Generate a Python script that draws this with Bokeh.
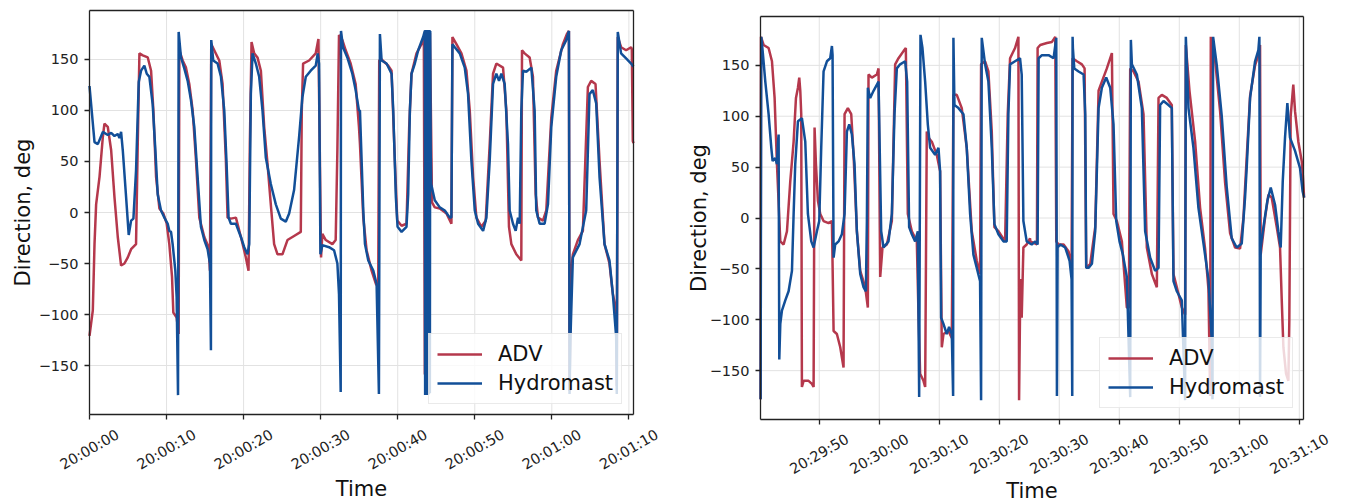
import math
import pandas as pd
from bokeh.plotting import figure
from bokeh.layouts import row
from bokeh.models import Range1d, FixedTicker, DatetimeTickFormatter, Legend, LegendItem, Label, LinearAxis
from bokeh.core.properties import value
from bokeh.embed import file_html
from bokeh.resources import INLINE

# ---------------- data: left panel (seconds after 20:00:00) ----------------
left_base = "2023-01-01 20:00:00"
left_adv_t = [0, 0.43, 0.65, 0.86, 1.30, 1.73, 1.94, 2.37, 2.81, 3.24, 3.67, 4.10, 4.53, 4.97, 5.40, 6.04,
              6.26, 6.48, 6.91, 7.56, 7.99, 8.29, 8.64, 9.07, 9.59, 10.02, 10.36, 10.71, 10.88, 11.31, 11.57,
              11.66, 12.09, 12.52, 12.95, 13.39, 13.82, 14.25, 14.90, 15.46, 15.63, 15.80, 16.19, 16.84, 17.27,
              17.70, 17.92, 18.35, 19.00, 19.65, 20.29, 20.64, 20.81, 21.03, 21.37, 21.80, 22.24, 22.67, 23.10,
              23.53, 23.96, 24.40, 25.04, 25.69, 26.55, 27.42, 27.55, 27.72, 28.50, 29.36, 29.71, 29.88, 30.05,
              30.22, 30.66, 31.52, 31.95, 32.17, 32.38, 32.82, 33.25, 33.89, 34.54, 34.97, 35.10, 35.53, 35.96,
              36.61, 37.17, 37.47, 37.60, 37.91, 38.77, 39.20, 39.63, 39.94, 40.50, 41.14, 41.49, 41.79, 42.44,
              43.09, 43.39, 43.52, 43.60, 43.70, 43.82, 43.94, 44.05, 44.18, 44.45, 44.81, 45.46, 46.33, 46.97,
              47.10, 47.62, 48.27, 48.92, 49.35, 49.78, 50.21, 50.86, 51.42, 51.94, 52.37, 52.80, 53.67, 54.10,
              54.44, 54.75, 55.39, 56.04, 56.13, 56.47, 57.12, 57.55, 57.90, 58.20, 58.85, 59.28, 59.93, 60.57,
              61.44, 61.96, 62.22, 62.30, 62.47, 62.73, 63.38, 64.03, 64.68, 65.11, 65.67, 66.19, 66.84, 67.48,
              67.92, 68.35, 68.43, 68.56, 68.99, 69.64, 70.29, 70.38, 70.51, 70.60]
left_adv_v = [-121, -96, -31, 8, 35, 74, 87, 84, 61, 15, -24, -52, -50, -44, -36, -31,
              67, 156, 154, 152, 139, 100, 35, 4, -1, -11, -31, -63, -98, -103, -119,
              159, 149, 142, 126, 100, 51, -5, -24, -34, -57, 165, 159, 149, 126,
              51, -5, -6, -5, -24, -44, -57, 67, 167, 156, 152, 139, 84, 48,
              8, -31, -41, -41, -27, -23, -19, 100, 146, 149, 156, 170, 64, -44,
              -21, -27, -31, -27, 61, 174, 169, 159, 146, 126, 84, 67, -5, -37,
              -57, -70, -73, 149, 150, 144, 139, 51, -8, -13, -11, 84, 136, 156,
              165, 172, -158, -160, 178, -155, 178, -150, 176, 10, 5, 4, -1, -11,
              172, 165, 156, 139, 100, 35, -5, -14, -8, 67, 136, 146, 142, 100,
              -14, -31, -41, -47, 159, 156, 152, 133, 18, -5, -8, 2, 93, 139,
              165, 175, 178, -175, -60, -41, -27, -18, 123, 129, 126, 51, -31, -50,
              -80, -96, -170, 172, 162, 159, 162, 160, 70, 68]

left_hm_t = [0, 0.65, 1.08, 1.73, 2.37, 2.81, 3.24, 3.67, 3.89, 4.10, 4.32, 4.75, 5.09, 5.40, 5.70, 6.04,
             6.39, 6.69, 7.12, 7.43, 7.77, 8.20, 8.55, 8.85, 9.28, 9.72, 10.15, 10.36, 10.58, 10.79, 11.14,
             11.31, 11.49, 11.57, 11.87, 12.31, 12.74, 13.17, 13.60, 14.03, 14.46, 14.90, 15.33, 15.63, 15.76,
             15.80, 16.06, 16.62, 17.06, 17.49, 17.79, 18.05, 18.35, 19.00, 19.65, 20.08, 20.51, 20.73, 20.94,
             21.16, 21.59, 22.02, 22.45, 22.88, 23.53, 24.18, 24.83, 25.47, 25.91, 26.55, 27.20, 27.63, 28.07,
             28.71, 29.36, 29.62, 29.79, 29.97, 30.22, 31.09, 31.74, 32.17, 32.38, 32.60, 32.64, 32.90, 33.46,
             34.11, 34.54, 34.97, 35.10, 35.53, 35.75, 36.18, 36.83, 37.26, 37.56, 37.69, 37.91, 38.55, 39.20,
             39.42, 39.76, 39.98, 40.50, 41.14, 41.36, 41.58, 41.79, 42.22, 42.66, 43.30, 43.52, 43.56, 43.60,
             43.64, 43.68, 43.74, 43.80, 43.85, 43.90, 43.95, 44.00, 44.06, 44.12, 44.17, 44.22, 44.28, 44.34,
             44.81, 45.46, 46.11, 46.76, 46.97, 47.10, 47.41, 48.05, 48.70, 49.13, 49.56, 50.00, 50.43, 51.08,
             51.51, 51.94, 52.37, 52.80, 53.15, 53.45, 53.88, 54.31, 54.53, 54.96, 55.31, 55.61, 55.83, 56.04,
             56.26, 56.69, 57.34, 57.77, 57.98, 58.42, 59.06, 59.50, 59.93, 60.57, 61.22, 61.87, 62.22, 62.30,
             62.43, 62.73, 63.60, 64.46, 64.89, 65.32, 65.76, 66.19, 66.84, 67.48, 67.92, 68.35, 68.43, 68.56,
             68.99, 69.64, 70.29, 70.60]
left_hm_v = [124, 69, 67, 79, 76, 78, 75, 77, 73, 79, 61, 15, -22, -8, -6, 41,
             128, 139, 144, 136, 133, 106, 61, 18, 2, -5, -11, -18, -19, -31, -57,
             -83, -179, 177, 152, 141, 129, 110, 84, 35, -14, -27, -36, -50, -135,
             169, 149, 146, 133, 100, 48, -5, -11, -11, -24, -34, -41, -31, 116,
             156, 146, 133, 100, 54, 28, 8, -6, -9, -1, 22, 74, 113, 133,
             139, 144, 156, 146, -41, -32, -34, -37, -50, -80, -176, 178, 162, 152,
             136, 120, 100, 100, 2, -31, -47, -57, -70, -178, 175, 149, 146, 136,
             100, 15, -14, -19, -14, 18, 100, 136, 146, 159, 172, 178, -179, 179,
             -178, 178, -179, 179, -178, 179, -179, 178, -178, 179, -177, 178, 60, 28,
             12, 5, 2, -5, -5, 165, 162, 156, 142, 116, 51, 2, -11, -18,
             -5, 51, 126, 136, 129, 136, 126, 67, 2, -11, -18, -5, -11, 100,
             139, 138, 142, 100, 2, -11, -11, 8, 84, 133, 159, 169, 178, -178,
             -120, -44, -31, 2, 116, 120, 107, 35, -31, -47, -80, -122, -178, 177,
             156, 151, 146, 143]

# ---------------- data: right panel (seconds after 20:29:40) ----------------
right_base = "2023-01-01 20:29:40"
right_adv_t = [0.23, 0.29, 0.73, 1.56, 2.12, 2.56, 2.95, 3.51, 4.06, 4.62, 5.17, 5.73, 6.12, 6.45, 6.67, 6.84,
               7.00, 7.11, 7.39, 8.22, 8.78, 9.06, 9.22, 9.45, 9.78, 10.17, 10.72, 11.55, 12.11, 12.39, 12.94,
               13.50, 14.05, 14.22, 14.77, 15.33, 15.72, 16.27, 16.83, 17.66, 18.10, 18.21, 18.77, 19.60, 19.88,
               20.16, 20.54, 21.27, 22.10, 22.65, 23.21, 24.04, 24.43, 24.76, 25.43, 26.26, 26.54, 26.81, 27.37,
               27.65, 27.92, 28.20, 28.76, 29.59, 30.14, 30.42, 30.70, 31.53, 32.09, 32.36, 32.92, 33.75, 34.58,
               35.42, 36.25, 36.80, 36.97, 37.64, 38.19, 38.75, 39.19, 39.86, 40.97, 41.41, 41.80, 42.63, 43.19,
               43.30, 43.52, 43.74, 44.02, 44.57, 45.13, 45.17, 46.28, 46.39, 46.83, 47.94, 48.78, 49.33, 49.50,
               49.89, 50.72, 51.55, 51.83, 52.05, 52.22, 52.94, 53.77, 54.22, 54.49, 55.16, 55.99, 56.55, 57.10,
               57.93, 58.77, 59.04, 59.60, 60.43, 61.26, 61.60, 61.82, 62.37, 63.21, 64.04, 64.59, 65.43, 66.26,
               66.54, 67.09, 67.92, 68.75, 69.03, 69.59, 70.42, 70.97, 71.09, 71.70, 72.64, 73.47, 74.30, 74.86,
               75.14, 75.25, 75.97, 76.80, 77.63, 78.47, 79.30, 80.13, 80.69, 81.24, 81.80, 82.63, 83.18, 83.46,
               83.57, 84.29, 84.85, 85.40, 86.24, 86.79, 87.07, 87.35, 87.79, 88.18, 88.34, 88.56, 89.00, 89.29,
               89.84, 90.40, 90.56, 90.80]
right_adv_v = [-178, 178, 170, 167, 154, 118, 53, -23, -26, -13, 36, 75, 118, 128, 138, 125,
               102, -166, -160, -160, -163, -166, 89, 53, 17, 4, -3, -5, -3, -111, -114,
               -127, -147, 102, 108, 102, 62, -13, -52, -68, -88, 141, 138, 141, 147,
               -58, -29, -26, -3, 151, 157, 164, 167, 4, -13, -23, -94, -153, -160,
               -166, 85, 79, 75, 62, 46, -127, -114, -111, -118, 121, 121, 108, 69,
               -13, -42, -55, 151, 154, 144, 85, -9, -13, -23, 102, 157, 167, 178,
               -179, -60, -98, -29, -26, -20, -23, -26, 167, 170, 172, 173, 178, -23,
               -26, -26, -33, -42, -45, 157, 154, 151, 147, -49, -45, -9, 125, 134,
               147, 162, 4, -3, -23, -88, -88, 147, 144, 134, 102, -29, -55, -68,
               118, 121, 118, 111, -55, -68, -88, -95, 170, 125, 75, 10, -30, -70,
               -175, 178, 155, 105, 35, -15, -29, -30, 0, 60, 120, 150, 160, 170,
               -36, 0, 23, 20, -9, -29, -80, -127, -153, -160, -100, 100, 131, 105,
               75, 56, 45, 20]

right_hm_t = [0.23, 0.34, 0.57, 1.01, 1.56, 2.01, 2.23, 2.67, 2.95, 3.12, 3.23, 3.34, 3.51, 3.78, 4.34, 4.89,
              5.45, 5.73, 6.00, 6.45, 7.11, 7.67, 8.11, 8.67, 9.06, 9.61, 10.00, 10.33, 10.72, 11.28, 11.83,
              12.11, 12.22, 12.39, 12.66, 13.22, 13.77, 14.22, 14.61, 15.00, 15.44, 15.88, 16.27, 16.83, 17.38,
              17.77, 17.94, 18.10, 18.49, 19.05, 19.88, 20.32, 20.71, 21.54, 22.10, 22.54, 22.93, 23.48, 24.32,
              24.65, 24.98, 25.43, 25.98, 26.43, 26.65, 26.87, 27.20, 27.65, 28.09, 28.48, 29.31, 29.87, 30.14,
              30.31, 30.70, 31.25, 31.64, 32.09, 32.31, 32.36, 32.53, 33.20, 34.03, 34.58, 35.14, 35.69, 36.25,
              36.80, 36.97, 37.08, 37.64, 38.19, 38.75, 39.19, 39.86, 40.69, 41.24, 41.52, 41.80, 42.63, 43.46,
              43.74, 44.02, 44.57, 45.41, 46.00, 46.39, 46.56, 47.11, 48.22, 49.05, 49.50, 49.61, 49.72, 50.16,
              50.99, 51.72, 52.05, 52.16, 52.22, 52.27, 52.50, 53.22, 54.05, 54.33, 54.49, 54.88, 55.44, 55.99,
              56.55, 57.10, 57.82, 58.49, 59.04, 59.49, 60.04, 60.60, 61.26, 61.82, 61.93, 62.10, 62.93, 63.76,
              64.31, 65.15, 65.98, 66.54, 66.81, 67.37, 68.20, 68.75, 69.03, 69.59, 70.42, 70.97, 71.09, 71.53,
              72.36, 73.19, 74.03, 74.86, 75.41, 75.53, 75.64, 76.25, 77.08, 77.91, 78.74, 79.58, 80.41, 80.96,
              81.24, 81.80, 82.63, 83.18, 83.35, 83.46, 83.57, 84.02, 84.68, 85.24, 85.96, 86.51, 86.90, 87.24,
              87.62, 88.01, 88.45, 89.29, 90.12, 90.56, 90.80]
right_hm_v = [-178, 178, 164, 134, 102, 69, 56, 59, 53, 75, 82, -139, -104, -91, -81, -72,
              -52, 4, 53, 95, 98, 75, 4, -23, -29, -13, -3, 69, 144, 154, 157,
              169, 160, -39, -26, -23, -16, 4, 85, 92, 82, 53, -13, -55, -68,
              -72, -3, 128, 118, 125, 134, -13, -29, -23, 4, 102, 147, 151, 154,
              134, -9, -16, -23, -13, -176, 180, 167, 134, 92, 69, 62, 69, 46,
              -98, -104, -114, -107, -114, -175, 177, 111, 108, 102, 69, 4, -36, -49,
              -62, -179, 177, 151, 134, 69, -6, -16, -23, -23, 102, 151, 154, 157,
              141, -3, -23, -26, -23, -26, 157, 160, 160, 157, 177, -175, -29, -26,
              -29, -42, -60, -175, 178, 167, 147, 144, 141, 102, -49, -49, -45, -13,
              108, 128, 138, 128, 92, -3, -23, -36, -58, -176, 175, 151, 141, 108,
              -13, -39, -52, -49, 111, 115, 111, 108, -62, -72, -81, -179, 178, 108,
              69, 10, -25, -60, -120, -178, 178, 150, 100, 30, -20, -29, -25, 20,
              50, 118, 154, 165, 178, -176, -29, -9, 17, 30, 13, -13, -29, 36,
              79, 113, 79, 66, 49, 26, 20]

y_ticks = [-150, -100, -50, 0, 50, 100, 150]
left_tick_labels = ["20:00:00", "20:00:10", "20:00:20", "20:00:30", "20:00:40", "20:00:50", "20:01:00", "20:01:10"]
right_tick_labels = ["20:29:50", "20:30:00", "20:30:10", "20:30:20", "20:30:30", "20:30:40", "20:30:50", "20:31:00", "20:31:10"]

RED = "#b5384c"
BLUE = "#124f98"
GRID = "#e2e2e2"
INK = "#222222"
FONT = "DejaVu Sans"
Y0, Y1 = -198, 198
H = 503
EPOCH = pd.Timestamp("1970-01-01")


def to_dt(base, secs):
    return pd.Timestamp(base) + pd.to_timedelta(secs, unit="s")


def ms(ts):
    return (pd.Timestamp(ts) - EPOCH).total_seconds() * 1000.0


def make_panel(base, adv_t, adv_v, hm_t, hm_v, tick_labels, x0, x1, W, bl, br, bt, fh,
               lab_drop, time_drop, ytitle_dx, legend_xy):
    date = pd.Timestamp(base).strftime("%Y-%m-%d ")
    spp = (x1 - x0) / (W - bl - br)          # seconds per pixel
    k = (Y1 - Y0) / fh                       # degrees per pixel
    bb = H - bt - fh
    # the frame fills the whole figure; the plot box sits inside it
    p = figure(width=W, height=H, x_axis_type="datetime",
               output_backend="svg", toolbar_location=None,
               min_border=0, min_border_left=0, min_border_right=0, min_border_top=0, min_border_bottom=0,
               x_range=Range1d(to_dt(base, x0 - bl * spp), to_dt(base, x1 + br * spp)),
               y_range=Range1d(Y0 - bb * k, Y1 + bt * k))
    p.grid.visible = False
    p.outline_line_color = None
    p.background_fill_color = "white"
    p.border_fill_color = "white"

    tick_times = [pd.Timestamp(date + lab) for lab in tick_labels]
    xt = [ms(t) for t in tick_times]
    xs, xe = to_dt(base, x0), to_dt(base, x1)

    # grid lines inside the plot box
    p.segment(x0=tick_times, y0=[Y0] * len(xt), x1=tick_times, y1=[Y1] * len(xt),
              line_color=GRID, line_width=1)
    p.segment(x0=[xs] * len(y_ticks), y0=y_ticks, x1=[xe] * len(y_ticks), y1=y_ticks,
              line_color=GRID, line_width=1)

    r1 = p.line(to_dt(base, adv_t), adv_v, line_color=RED, line_width=2.5)
    r2 = p.line(to_dt(base, hm_t), hm_v, line_color=BLUE, line_width=2.5)

    # bottom axis (ticks) pinned to the bottom of the plot box
    xa = p.xaxis[0]
    xa.fixed_location = Y0
    xa.bounds = (ms(xs) - 1, ms(xe))
    xa.ticker = FixedTicker(ticks=xt)
    fmt = "%H:%M:%S"
    xa.formatter = DatetimeTickFormatter(milliseconds=fmt, seconds=fmt, minsec=fmt,
                                         minutes=fmt, hourmin=fmt, hours=fmt)
    xa.major_label_overrides = {t: "" for t in xt}
    xa.major_label_text_font_size = "0px"
    # left axis pinned to the left of the plot box
    ya = p.yaxis[0]
    ya.fixed_location = ms(xs)
    ya.bounds = (Y0, Y1)
    ya.ticker = FixedTicker(ticks=y_ticks)
    ya.major_label_overrides = {v: (str(v) if v >= 0 else "\u2212" + str(-v)) for v in y_ticks}
    ya.major_label_text_font = FONT
    ya.major_label_text_font_size = "14.5px"
    ya.major_label_text_color = INK
    ya.major_label_standoff = 6
    for ax in (xa, ya):
        ax.axis_line_color = INK
        ax.axis_line_width = 1.3
        ax.major_tick_line_color = INK
        ax.major_tick_line_width = 1.3
        ax.major_tick_out = 5
        ax.major_tick_in = 0
        ax.minor_tick_line_color = None
    # top and right edges of the box
    top = LinearAxis(fixed_location=Y1, bounds=(ms(xs) - 1, ms(xe)), ticker=FixedTicker(ticks=[]),
                     axis_line_color=INK, axis_line_width=1.3, major_tick_line_color=None,
                     minor_tick_line_color=None, major_label_text_font_size="0px")
    p.add_layout(top, "above")
    rgt = LinearAxis(fixed_location=ms(xe), bounds=(Y0, Y1), ticker=FixedTicker(ticks=[]),
                     axis_line_color=INK, axis_line_width=1.3, major_tick_line_color=None,
                     minor_tick_line_color=None, major_label_text_font_size="0px")
    p.add_layout(rgt, "right")

    # rotated time tick labels, centred under their ticks
    p.text(x=tick_times, y=[Y0 - lab_drop * k] * len(xt), text=tick_labels,
           angle=math.pi / 6, text_align="center", text_baseline="middle",
           text_font=value(FONT), text_font_size=value("14.5px"), text_color=INK)
    # axis titles
    p.add_layout(Label(x=ms(to_dt(base, (x0 + x1) / 2)), y=Y0 - time_drop * k, text="Time",
                       text_align="center", text_baseline="middle",
                       text_font=FONT, text_font_size="21px", text_color="#111111"))
    p.add_layout(Label(x=ms(to_dt(base, x0 - ytitle_dx * spp)), y=0, text="Direction, deg",
                       angle=math.pi / 2, text_align="center", text_baseline="middle",
                       text_font=FONT, text_font_size="21px", text_color="#111111"))

    legend = Legend(items=[LegendItem(label="ADV", renderers=[r1]),
                           LegendItem(label="Hydromast", renderers=[r2])],
                    location=legend_xy)
    legend.label_text_font = FONT
    legend.label_text_font_size = "21px"
    legend.label_text_color = "#111111"
    legend.glyph_width = 45
    legend.glyph_height = 22
    legend.label_standoff = 16
    legend.padding = 8
    legend.spacing = 5
    legend.margin = 0
    legend.border_line_color = "#d6d6d6"
    legend.border_line_width = 1
    legend.background_fill_alpha = 0.8
    p.add_layout(legend)
    return p


p1 = make_panel(left_base, left_adv_t, left_adv_v, left_hm_t, left_hm_v, left_tick_labels,
                0.0, 70.6, 680, 89, 47, 10, 404, 35, 74, 66.5, (428, 99))
p2 = make_panel(right_base, right_adv_t, right_adv_v, right_hm_t, right_hm_v, right_tick_labels,
                0.21, 90.7, 667, 80, 44, 16, 403, 34.5, 71, 62, (419, 95))

layout = row(p1, p2, spacing=0)
open("out.html", "w").write(file_html(layout, INLINE))
